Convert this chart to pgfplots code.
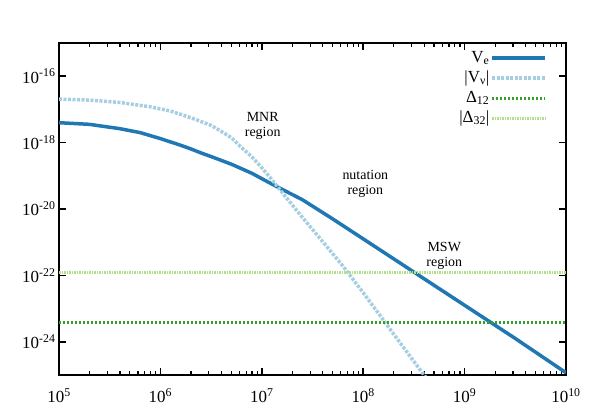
\documentclass[border=0pt]{standalone}
\usepackage{pgfplots}
\pgfplotsset{compat=1.18}
\usepackage{fontspec}
\setmainfont{Liberation Serif}
\definecolor{cve}{RGB}{31,120,180}
\definecolor{cvnu}{RGB}{166,206,227}
\definecolor{cdone}{RGB}{51,160,44}
\definecolor{cdtwo}{RGB}{178,223,138}

\begin{document}
\begin{tikzpicture}
\begin{axis}[
    xmode=log, ymode=log,
    scale only axis, width=507bp, height=332bp,
    xmin=1e5, xmax=1e10, ymin=1e-25, ymax=1e-15,
    xtick={1e5,1e6,1e7,1e8,1e9,1e10},
    xticklabels={10\textsuperscript{5},10\textsuperscript{6},10\textsuperscript{7},10\textsuperscript{8},10\textsuperscript{9},10\textsuperscript{10}},
    ytick={1e-24,1e-22,1e-20,1e-18,1e-16},
    yticklabels={10\textsuperscript{-24},10\textsuperscript{-22},10\textsuperscript{-20},10\textsuperscript{-18},10\textsuperscript{-16}},
    yminorticks=false,
    tick align=inside,
    major tick length=7bp, minor tick length=4bp,
    every major tick/.append style={black, line width=1.5bp},
    every minor tick/.append style={black, line width=1.2bp},
    axis line style={line width=2.5bp},
    tick label style={font=\fontsize{17}{17}\selectfont},
    xticklabel shift=10bp,
    legend style={draw=none, fill=none, at={(1,1)}, anchor=north east,
      xshift=-16bp, yshift=-3bp, font=\fontsize{17}{17}\selectfont,
      nodes={inner sep=1bp, text height=13bp, text depth=5bp}},
    legend plot pos=right, legend cell align=right,
    legend image code/.code={\draw[#1] (0bp,0bp) -- (53bp,0bp);},
  ]
  % V_e
  \addplot[cve, line width=3.5bp] coordinates {
    (1e5,3.98e-18) (1.995e5,3.55e-18) (3.98e5,2.63e-18) (6.31e5,2.0e-18)
    (1e6,1.32e-18) (1.585e6,8.32e-19) (1.995e6,6.46e-19) (2.51e6,4.90e-19)
    (3.16e6,3.80e-19) (5.01e6,2.24e-19) (7.94e6,1.20e-19) (1.26e7,5.62e-20)
    (2.51e7,1.91e-20) (5.01e7,5.01e-21) (1e8,1.26e-21) (3.16e8,1.26e-22)
    (1e9,1.26e-23) (3.16e9,1.26e-24) (1e10,1.17e-25)};
  \addlegendentry{V\textsubscript{e}}
  % |V_nu|
  \addplot[cvnu, line width=3.5bp, dash pattern=on 3bp off 1.5bp] coordinates {
    (1e5,2.04e-17) (1.995e5,1.91e-17) (3.98e5,1.62e-17) (7.94e5,1.20e-17)
    (1.26e6,8.91e-18) (1.995e6,5.62e-18) (3.16e6,3.31e-18) (3.98e6,2.19e-18)
    (5.01e6,1.41e-18) (6.31e6,7.08e-19) (7.94e6,3.80e-19) (1e7,1.74e-19)
    (1.26e7,7.59e-20) (1.585e7,3.16e-20) (2.51e7,5.62e-21) (3.98e7,1.05e-21)
    (6.31e7,1.91e-22) (1e8,3.02e-23) (1.585e8,4.47e-24) (2.51e8,6.61e-25)
    (3.98e8,1.0e-25) (5.01e8,3.89e-26)};
  \addlegendentry{|V\textsubscript{ν}|}
  % Delta_12
  \addplot[cdone, line width=3bp, dash pattern=on 2bp off 2bp] coordinates {
    (1e5,3.8e-24) (1e10,3.8e-24)};
  \addlegendentry{Δ\textsubscript{12}}
  % |Delta_32|
  \addplot[cdtwo, line width=3bp, dash pattern=on 1.5bp off 1bp] coordinates {
    (1e5,1.23e-22) (1e10,1.23e-22)};
  \addlegendentry{|Δ\textsubscript{32}|}

  \node[align=center, font=\fontsize{14}{15}\selectfont] at (axis cs:1.02e7,3.16e-18) {MNR\\region};
  \node[align=center, font=\fontsize{14}{15}\selectfont] at (axis cs:1.05e8,5.9e-20) {nutation\\region};
  \node[align=center, font=\fontsize{14}{15}\selectfont] at (axis cs:6.3e8,3.9e-22) {MSW\\region};
\end{axis}
\path ([xshift=-59bp,yshift=-44bp]current axis.south west) rectangle ([xshift=32bp,yshift=43bp]current axis.north east);
\end{tikzpicture}
\end{document}
